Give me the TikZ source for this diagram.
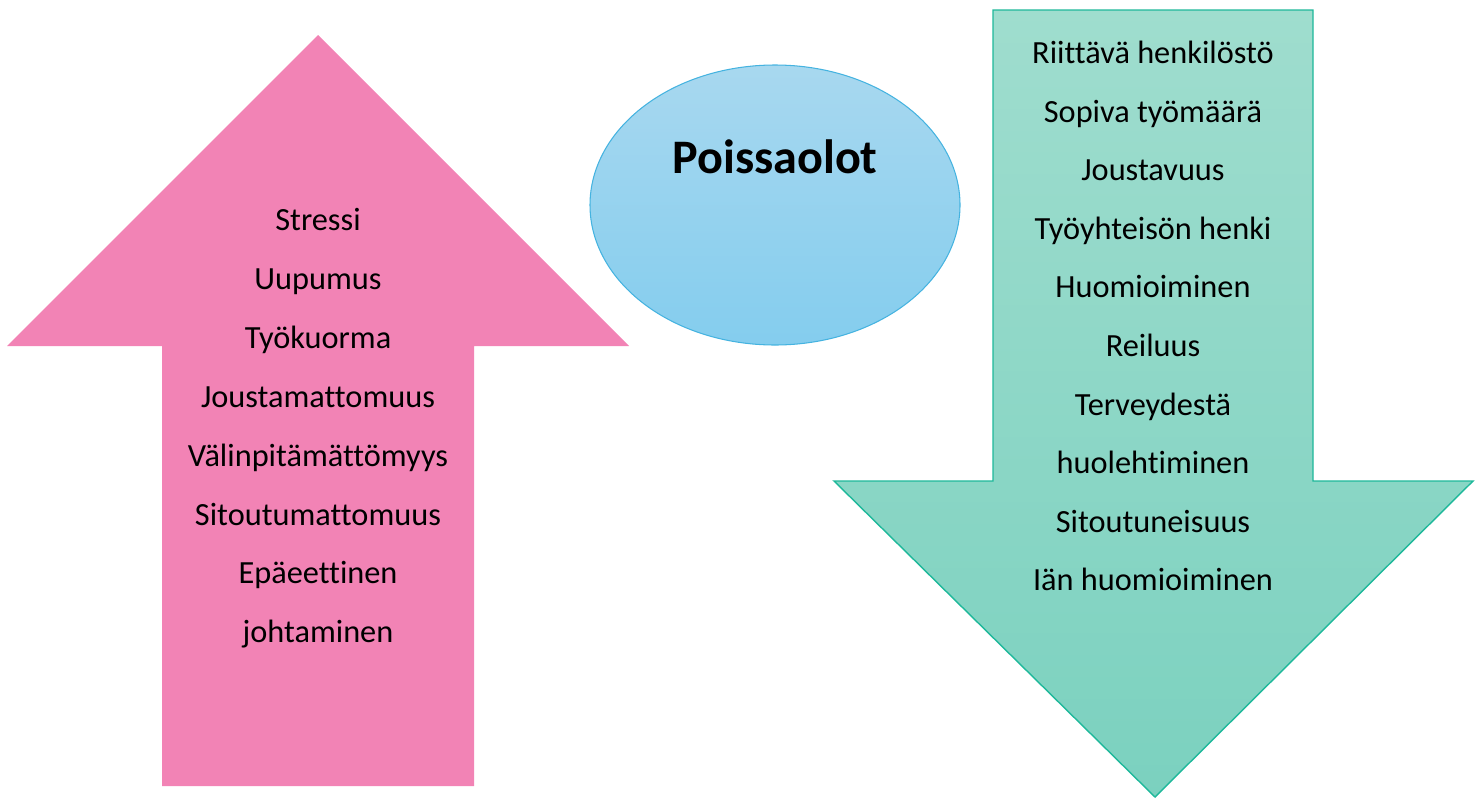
\documentclass[tikz,border=0pt]{standalone}
\usepackage{fontspec}
\setmainfont{Carlito}[Ligatures=NoCommon]
\usetikzlibrary{shapes.geometric}
\definecolor{pinkarrow}{HTML}{F283B5}
\definecolor{greentop}{HTML}{9FDDCE}
\definecolor{greenbot}{HTML}{7BD1BF}
\definecolor{greenline}{HTML}{1EB89A}
\definecolor{bluetop}{HTML}{A8D8EF}
\definecolor{bluebot}{HTML}{84CDEE}
\definecolor{blueline}{HTML}{45B3E0}
\tikzset{
  lbl/.style={font=\fontsize{18.4}{22}\selectfont, text=black, inner sep=0pt, anchor=base},
  title/.style={font=\fontsize{27.4}{32}\selectfont\bfseries, text=black, inner sep=0pt, anchor=base},
}
\begin{document}
\begin{tikzpicture}[x=0.02cm,y=-0.02cm]
\useasboundingbox (0,0) rectangle (1480,798);
% pink up arrow
\fill[pinkarrow] (318,35) -- (629,346) -- (474,346) -- (474,786) -- (162,786) -- (162,346) -- (7,346) -- cycle;
% green down arrow
\shade[top color=greentop, bottom color=greenbot, draw=greenline, line width=0.8pt]
  (993,10) -- (1313,10) -- (1313,481) -- (1473,481) -- (1155,797) -- (834,481) -- (993,481) -- cycle;
% ellipse
\node[ellipse, minimum width=370*0.02cm, minimum height=280*0.02cm, draw=blueline, line width=0.6pt,
  top color=bluetop, bottom color=bluebot] (ell) at (775,205) {};
\node[title] (poiss) at (775,173) {Poissaolot};
% left texts
\foreach \t [count=\i] in {Stressi,Uupumus,Työkuorma,Joustamattomuus,Välinpitämättömyys,Sitoutumattomuus,Epäeettinen,johtaminen}
  \node[lbl] (l\i) at (318,{230.5+(\i-1)*58.9}) {\t};
% right texts
\foreach \t [count=\i] in {Riittävä henkilöstö,Sopiva työmäärä,Joustavuus,Työyhteisön henki,Huomioiminen,Reiluus,Terveydestä,huolehtiminen,Sitoutuneisuus,Iän huomioiminen}
  \node[lbl] (r\i) at (1153,{63.5+(\i-1)*58.6}) {\t};
\end{tikzpicture}
\end{document}
